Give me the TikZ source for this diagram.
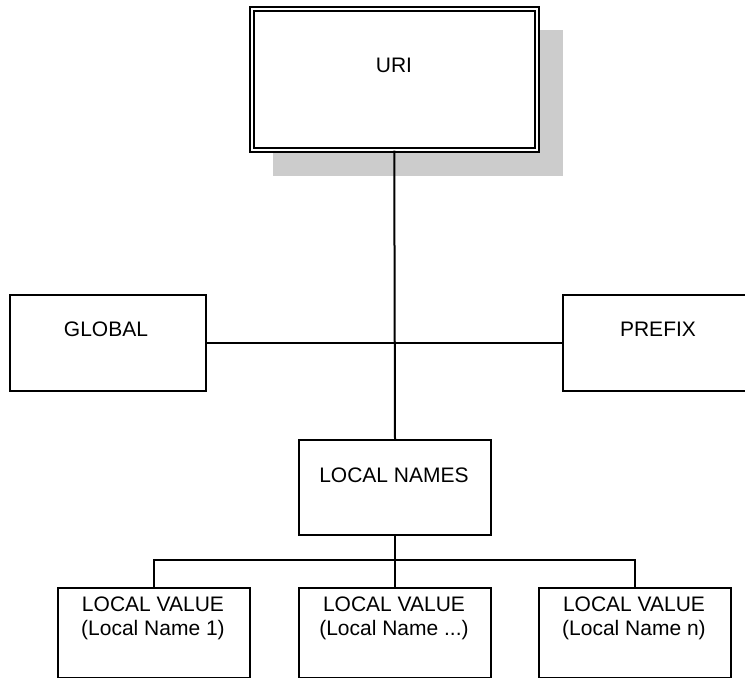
\documentclass[tikz,border=0pt]{standalone}
\usepackage{fontspec}
\setmainfont{Liberation Sans}
\begin{document}
\begin{tikzpicture}[x=1pt,y=-1pt,
  conn/.style={line width=2pt},
  boxnode/.style={draw, line width=2pt, inner sep=0pt, anchor=north west, minimum width=#1},
  boxnode/.default=192pt,
  txt/.style={font=\fontsize{21}{23.5}\selectfont, inner sep=0pt, anchor=base},
  txtm/.style={font=\fontsize{21}{23.5}\selectfont, inner sep=0pt, anchor=north, align=center}]
\useasboundingbox (0,0) rectangle (745,678);
\clip (0,0) rectangle (745,678);
% shadow of URI
\fill[black!20] (273,30) rectangle (563,176);
% boxes
\node[draw, double, line width=1.5pt, double distance=2.5pt, fill=white, inner sep=0pt,
      anchor=north west, minimum width=285pt, minimum height=141pt] (uri) at (251,8) {};
\node[boxnode=196pt, minimum height=96pt] (g) at (9,294) {};
\node[boxnode=196pt, minimum height=96pt] (p) at (562,294) {};
\node[boxnode, minimum height=95pt] (ln) at (298,439) {};
\node[boxnode, minimum height=90pt] (v1) at (57,587) {};
\node[boxnode, minimum height=90pt] (v2) at (298,587) {};
\node[boxnode, minimum height=90pt] (v3) at (538,587) {};
% texts
\node[txt] (turi) at (394,72) {URI};
\node[txt] (tg) at (106,336) {GLOBAL};
\node[txt] (tp) at (658,336) {PREFIX};
\node[txt] (tln) at (394,482) {LOCAL NAMES};
\node[txtm] (tv1) at (153,597) {LOCAL VALUE\\(Local Name 1)};
\node[txtm] (tv2) at (394,597) {LOCAL VALUE\\(Local Name ...)};
\node[txtm] (tv3) at (634,597) {LOCAL VALUE\\(Local Name n)};
% connectors
\coordinate (bus) at (394,560);
\draw[conn] (uri.south) -- (ln.north);
\draw[conn] (g.east) -- (p.west);
\draw[conn] (ln.south) -- (v2.north);
\draw[conn] (v1.north) |- (bus) -| (v3.north);
\end{tikzpicture}
\end{document}
